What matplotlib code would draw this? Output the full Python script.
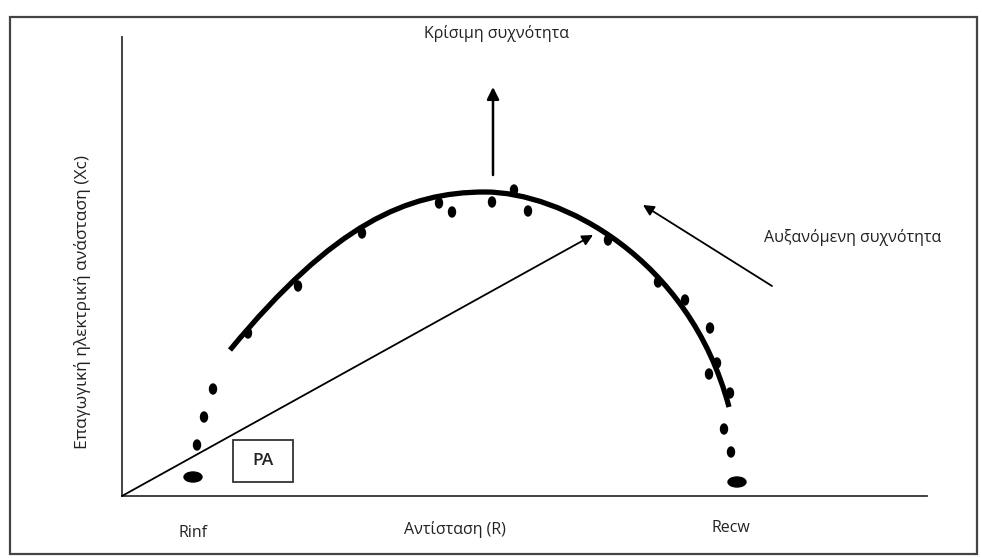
import numpy as np
import matplotlib
matplotlib.use("Agg")
import matplotlib.pyplot as plt
from matplotlib.patches import Ellipse, Rectangle, PathPatch
from matplotlib.path import Path

# Measured points (R, Xc) in plot units, origin at the axes corner
dots_R = [75, 82, 91, 126, 176, 240, 317, 330, 370, 392, 406,
          486, 536, 563, 588, 595, 587, 608, 602, 609]
dots_Xc = [51, 79, 107, 163, 210, 263, 293, 284, 294, 306, 285,
           256, 214, 196, 168, 133, 122, 103, 67, 44]

# intercepts on the R axis
ends_R = [71, 615]
ends_Xc = [19, 14]

# fitted arc drawn through Bezier control points
arc_R = [108, 212, 285, 363, 438, 567, 607]
arc_Xc = [146, 272, 304, 304, 304, 239, 89]

# phase-angle vector tip and the two annotation arrows
vec_tip = (471, 261)
crit_arrow = ((371, 321), (371, 409))
freq_arrow = ((650, 210), (521, 291))

plt.rcParams["font.family"] = ["Open Sans", "DejaVu Sans"]


def main():
    fig = plt.figure(figsize=(9.82, 5.58), dpi=100)
    ax = fig.add_axes([122 / 982, 62 / 558, 805 / 982, 459 / 558])
    ax.set_xlim(0, 805)
    ax.set_ylim(0, 459)
    ax.set_xticks([])
    ax.set_yticks([])
    for s in ("top", "right"):
        ax.spines[s].set_visible(False)
    for s in ("left", "bottom"):
        ax.spines[s].set_linewidth(1.3)
        ax.spines[s].set_color("#333333")

    # outer frame of the scanned figure
    fig.patches.append(Rectangle((10 / 982, 4 / 558), 967 / 982, 537 / 558,
                                 transform=fig.transFigure, fill=False,
                                 lw=1.6, ec="#444444"))

    # the semicircle fit
    codes = [Path.MOVETO] + [Path.CURVE4] * 6
    arc = Path(list(zip(arc_R, arc_Xc)), codes)
    ax.add_patch(PathPatch(arc, fill=False, lw=3.8, ec="black", capstyle="butt"))

    # measurement dots
    for r, x in zip(dots_R, dots_Xc):
        ax.add_patch(Ellipse((r, x), 7, 10, color="black"))
    for r, x in zip(ends_R, ends_Xc):
        ax.add_patch(Ellipse((r, x), 18, 10, color="black"))

    # vector from origin
    ax.annotate("", xy=vec_tip, xytext=(0, 0),
                arrowprops=dict(arrowstyle="-|>", lw=1.3, color="black",
                                mutation_scale=16, shrinkA=0, shrinkB=0))
    ax.annotate("", xy=crit_arrow[1], xytext=crit_arrow[0],
                arrowprops=dict(arrowstyle="-|>", lw=1.8, color="black",
                                mutation_scale=18, shrinkA=0, shrinkB=0))
    ax.annotate("", xy=freq_arrow[1], xytext=freq_arrow[0],
                arrowprops=dict(arrowstyle="-|>", lw=1.3, color="black",
                                mutation_scale=16, shrinkA=0, shrinkB=0))

    # PA box
    ax.add_patch(Rectangle((111, 14), 60, 42, fill=False, lw=1.3, ec="#333333"))
    ax.text(141, 35, "PA", ha="center", va="center", fontsize=12.5,
            color="#222222", fontweight="semibold")

    tkw = dict(fontsize=11.5, color="#222222", clip_on=False)
    ax.text(374, 463, "Κρίσιμη συχνότητα", ha="center", va="center", **tkw)
    ax.text(731, 259, "Αυξανόμενη συχνότητα", ha="center", va="center", **tkw)
    ax.text(71, -37, "Rinf", ha="center", va="center", **tkw)
    ax.text(333, -34, "Αντίσταση (R)", ha="center", va="center", **tkw)
    ax.text(609, -32, "Recw", ha="center", va="center", **tkw)
    ax.text(-39, 194, "Επαγωγική ηλεκτρική ανάσταση (Xc)", ha="center",
            va="center", rotation=90, fontsize=12.5, color="#222222", clip_on=False)

    fig.savefig("out.png", dpi=100)
    plt.close(fig)


if __name__ == "__main__":
    main()
